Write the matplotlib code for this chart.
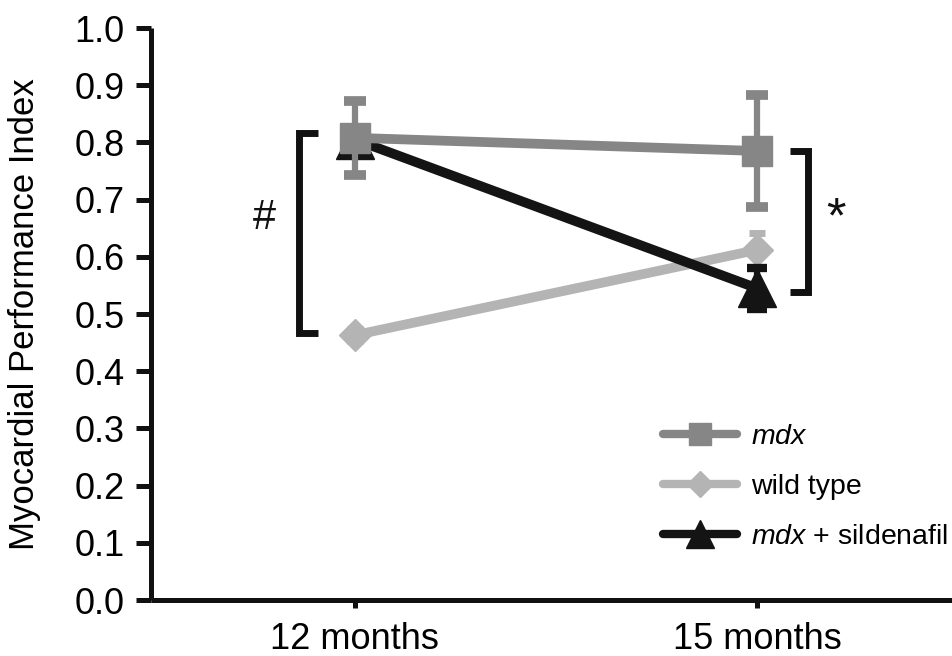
import matplotlib
matplotlib.use("Agg")
import matplotlib.pyplot as plt
from matplotlib.lines import Line2D

plt.rcParams['font.family'] = ['Liberation Sans', 'DejaVu Sans']
plt.rcParams['mathtext.fontset'] = 'custom'
plt.rcParams['mathtext.rm'] = 'Liberation Sans'
plt.rcParams['mathtext.it'] = 'Liberation Sans:italic'

# ---- data ----
timepoints = ["12 months", "15 months"]
mdx_mean = [0.808, 0.785]
mdx_err = [0.065, 0.098]
wt_mean = [0.463, 0.612]
wt_err = [0.01, 0.03]
sild_mean = [0.805, 0.545]
sild_err = [0.01, 0.036]
yticks = [0.0, 0.1, 0.2, 0.3, 0.4, 0.5, 0.6, 0.7, 0.8, 0.9, 1.0]
labels = [r"$\mathit{mdx}$", "wild type", r"$\mathit{mdx}$ + sildenafil"]

c_mdx = "#868686"
c_wt = "#b4b4b4"
c_sild = "#141414"

fig = plt.figure(figsize=(9.52, 6.56), dpi=100)
ax = fig.add_axes([151/952, 56/656, (952-151)/952, (600-28)/656])

x = list(range(len(timepoints)))

ax.errorbar(x, wt_mean, yerr=wt_err, color=c_wt, lw=7, marker='D', ms=16,
            mec=c_wt, capsize=6, elinewidth=4, capthick=5, zorder=3)
ax.errorbar(x, sild_mean, yerr=sild_err, color=c_sild, lw=7, marker='^', ms=27,
            mec=c_sild, capsize=7, elinewidth=4.5, capthick=6, zorder=4)
ax.errorbar(x, mdx_mean, yerr=mdx_err, color=c_mdx, lw=7, marker='s', ms=22,
            mec=c_mdx, capsize=8, elinewidth=4.5, capthick=7, zorder=5)

# significance brackets
ax.plot([-0.092, -0.139, -0.139, -0.092], [0.816, 0.816, 0.467, 0.467],
        color="#111111", lw=5, solid_capstyle='butt', solid_joinstyle='miter',
        clip_on=False, zorder=6)
ax.plot([1.082, 1.127, 1.127, 1.082], [0.785, 0.785, 0.538, 0.538],
        color="#111111", lw=5, solid_capstyle='butt', solid_joinstyle='miter',
        clip_on=False, zorder=6)
ax.text(-0.224, 0.667, "#", fontsize=30, ha='center', va='center', color="#111111")
ax.text(1.197, 0.665, "*", fontsize=36, ha='center', va='center', color="#111111")

ax.set_xlim(-0.507, 1.485)
ax.set_ylim(0, 1.0)
ax.set_xticks(x)
ax.set_xticklabels(timepoints, fontsize=26)
ax.set_yticks(yticks)
ax.set_yticklabels([f"{v:.1f}" for v in yticks], fontsize=26)
ax.set_ylabel("Myocardial Performance Index", fontsize=25)
ax.yaxis.set_label_coords(-0.137, 0.5)

for s in ['top', 'right']:
    ax.spines[s].set_visible(False)
for s in ['left', 'bottom']:
    ax.spines[s].set_linewidth(3.6)
    ax.spines[s].set_color("#111111")
    ax.spines[s].set_capstyle('butt')
ax.tick_params(axis='y', length=11, width=3.6, pad=8, color="#111111")
ax.tick_params(axis='x', length=6, width=3.6, pad=10, color="#111111")

handles = [
    Line2D([], [], color=c_mdx, lw=6, marker='s', ms=16, solid_capstyle='round'),
    Line2D([], [], color=c_wt, lw=6, marker='D', ms=13, solid_capstyle='round'),
    Line2D([], [], color=c_sild, lw=6, marker='^', ms=20, solid_capstyle='round'),
]
ax.legend(handles, labels, loc='upper left', bbox_to_anchor=(663/952, 1 - 424/656),
          bbox_transform=fig.transFigure, frameon=False, fontsize=20.5,
          handlelength=2.6, handletextpad=0.5, labelspacing=0.85,
          borderpad=0, borderaxespad=0)

fig.savefig("out.png", dpi=100)
